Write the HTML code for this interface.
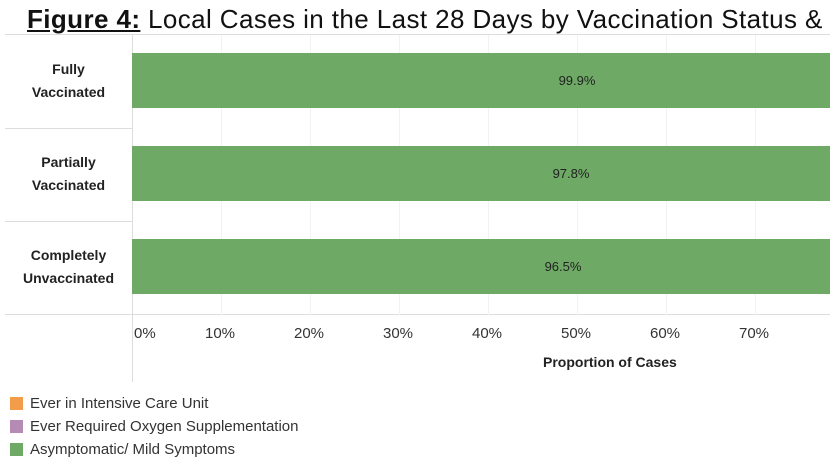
<!DOCTYPE html>
<html><head><style>
body{margin:0;width:830px;height:468px;overflow:hidden;background:#fff;font-family:"Liberation Sans",Arial,sans-serif;position:relative}
.a{position:absolute}
.t{position:absolute;left:27px;top:4px;font-size:26px;letter-spacing:0.4px;white-space:nowrap;color:#111}
.lab{position:absolute;left:5px;width:127px;text-align:center;font-size:14px;font-weight:bold;color:#222;line-height:23px}
.bar{position:absolute;left:132px;width:700px;height:55px;background:#6ea966}
.bl{position:absolute;font-size:13px;color:#222;width:80px;text-align:center}
.tick{position:absolute;top:325px;font-size:15px;color:#333}
.lg{position:absolute;left:30px;font-size:15px;color:#333}
.sq{position:absolute;left:10px;width:13px;height:13px}
</style></head><body>
<div class="t"><b><u>Figure 4:</u></b> Local Cases in the Last 28 Days by Vaccination Status &amp;</div>
<div class="a" style="left:5px;top:34px;width:825px;height:1px;background:#ddd"></div>
<div class="a" style="left:5px;top:128px;width:127px;height:1px;background:#ddd"></div>
<div class="a" style="left:5px;top:221px;width:127px;height:1px;background:#ddd"></div>
<div class="a" style="left:5px;top:314px;width:825px;height:1px;background:#ddd"></div>
<div class="a" style="left:132px;top:35px;width:1px;height:347px;background:#ddd"></div>
<div class="a" style="left:221px;top:35px;width:1px;height:280px;background:#f2f2f2"></div>
<div class="a" style="left:310px;top:35px;width:1px;height:280px;background:#f2f2f2"></div>
<div class="a" style="left:399px;top:35px;width:1px;height:280px;background:#f2f2f2"></div>
<div class="a" style="left:488px;top:35px;width:1px;height:280px;background:#f2f2f2"></div>
<div class="a" style="left:577px;top:35px;width:1px;height:280px;background:#f2f2f2"></div>
<div class="a" style="left:666px;top:35px;width:1px;height:280px;background:#f2f2f2"></div>
<div class="a" style="left:755px;top:35px;width:1px;height:280px;background:#f2f2f2"></div>
<div class="lab" style="top:58px">Fully<br>Vaccinated</div>
<div class="lab" style="top:151px">Partially<br>Vaccinated</div>
<div class="lab" style="top:244px">Completely<br>Unvaccinated</div>
<div class="bar" style="top:53px"></div>
<div class="bar" style="top:146px"></div>
<div class="bar" style="top:239px"></div>
<div class="bl" style="left:537px;top:73px">99.9%</div>
<div class="bl" style="left:531px;top:166px">97.8%</div>
<div class="bl" style="left:523px;top:259px">96.5%</div>
<div class="tick" style="left:134px">0%</div>
<div class="tick" style="left:205px">10%</div>
<div class="tick" style="left:294px">20%</div>
<div class="tick" style="left:383px">30%</div>
<div class="tick" style="left:472px">40%</div>
<div class="tick" style="left:561px">50%</div>
<div class="tick" style="left:650px">60%</div>
<div class="tick" style="left:739px">70%</div>
<div class="a" style="left:543px;top:354px;font-size:14px;font-weight:bold;color:#222">Proportion of Cases</div>
<div class="sq" style="top:397px;background:#f39c4a"></div>
<div class="sq" style="top:420px;background:#b58ab5"></div>
<div class="sq" style="top:443px;background:#6ea966"></div>
<div class="lg" style="top:395px">Ever in Intensive Care Unit</div>
<div class="lg" style="top:418px">Ever Required Oxygen Supplementation</div>
<div class="lg" style="top:441px">Asymptomatic/ Mild Symptoms</div>
</body></html>
